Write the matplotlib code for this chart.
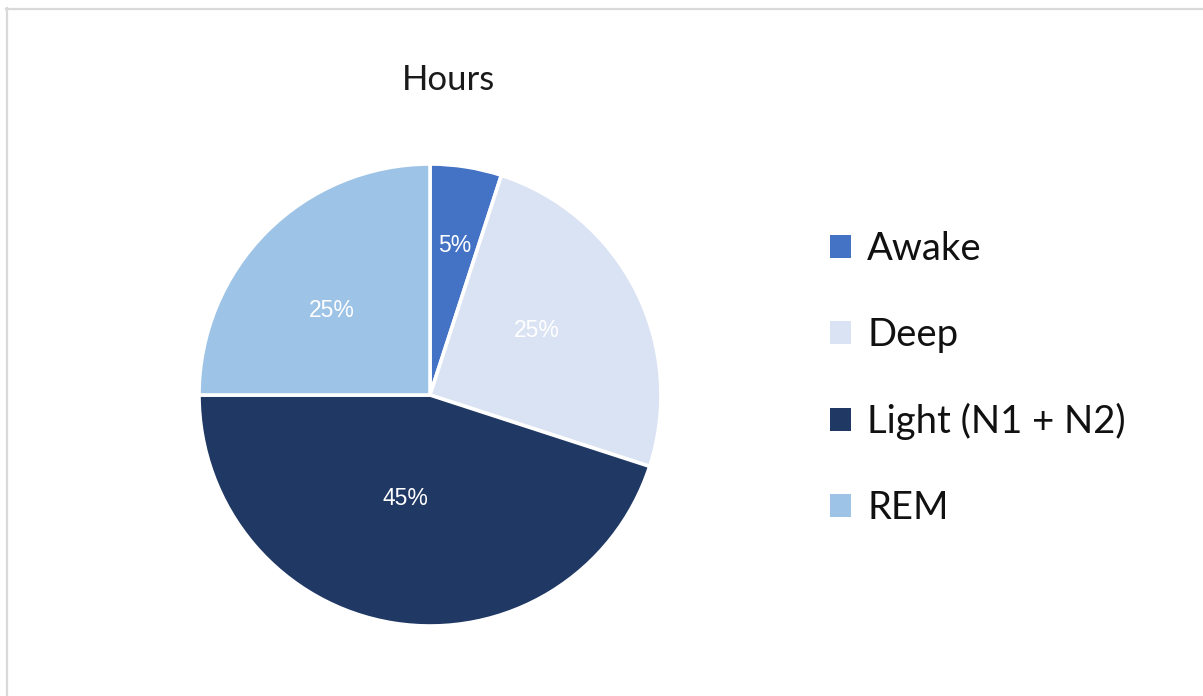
import matplotlib
matplotlib.use("Agg")
import matplotlib.pyplot as plt
from matplotlib.lines import Line2D
from matplotlib.patches import Patch

# Sleep stage breakdown (share of hours)
stages = ["Awake", "Deep", "Light (N1 + N2)", "REM"]
shares = [5, 25, 45, 25]
colors = ["#4472C4", "#DAE3F3", "#203864", "#9DC3E6"]
title = "Hours"

# label anchors inside each wedge (unit-radius coordinates)
label_xy = [(0.108, 0.649), (0.463, 0.281), (-0.108, -0.450), (-0.424, 0.364)]

W, H, DPI = 1203, 696, 100
fig = plt.figure(figsize=(W / DPI, H / DPI), dpi=DPI)
fig.patch.set_facecolor("white")

# pie axes: centre (430, 395) px, radius 231 px
cx, cy, r = 430, 395, 231
ax = fig.add_axes([(cx - r) / W, (H - cy - r) / H, 2 * r / W, 2 * r / H])
wedges, texts, autotexts = ax.pie(
    shares,
    colors=colors,
    startangle=90,
    counterclock=False,
    radius=1,
    autopct="%d%%",
    pctdistance=0.6,
    wedgeprops=dict(edgecolor="white", linewidth=2.6),
    textprops=dict(color="white", fontsize=16.5, family="Liberation Sans"),
)
for t, (x, y) in zip(autotexts, label_xy):
    t.set_position((x, y))
    t.set_ha("center")
    t.set_va("center")
ax.set_xlim(-1.0, 1.0)
ax.set_ylim(-1.0, 1.0)
ax.set_aspect("equal")
ax.axis("off")

fig.text(448 / W, 1 - 80 / H, title, ha="center", va="center",
         fontsize=25, family="Lato", color="#1a1a1a")

handles = [Patch(facecolor=c, edgecolor="none") for c in colors]
leg = fig.legend(
    handles, stages,
    loc="upper left",
    bbox_to_anchor=(830 / W, 1 - 231 / H),
    frameon=False,
    prop=dict(family="Lato", size=27.5),
    handlelength=0.55,
    handleheight=0.55,
    handletextpad=0.42,
    labelspacing=1.31,
    borderpad=0,
    borderaxespad=0,
)
for txt in leg.get_texts():
    txt.set_color("#111111")

# thin grey frame along the top and left edges
frame_kw = dict(color="#d9d9d9", linewidth=1.6, transform=fig.transFigure)
fig.add_artist(Line2D([6 / W, 1.0], [1 - 8.5 / H, 1 - 8.5 / H], **frame_kw))
fig.add_artist(Line2D([6.5 / W, 6.5 / W], [0, 1 - 8 / H], **frame_kw))

fig.savefig("out.png", dpi=DPI, facecolor="white")
